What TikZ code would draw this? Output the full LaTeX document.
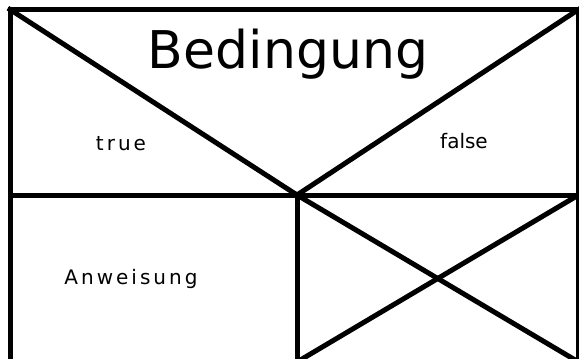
\documentclass[tikz,border=0pt]{standalone}
\usepackage{fontspec}
\setmainfont{DejaVu Sans}
\newfontfamily\condfont{DejaVu Sans}
\newfontfamily\spacedfont[LetterSpace=15]{DejaVu Sans}
\usetikzlibrary{positioning,calc}

\begin{document}
\begin{tikzpicture}[
  x=1pt, y=-1pt,
  every node/.style={inner sep=0pt, anchor=base},
  bar/.style={line width=5pt, line cap=rect},
  head/.style={font=\fontsize{52}{60}\selectfont\condfont},
  case/.style={font=\fontsize{20}{24}\selectfont\condfont},
  casesp/.style={font=\fontsize{20}{24}\selectfont\spacedfont}
]
\useasboundingbox (0,0) rectangle (579,359);
\clip (0,0) rectangle (579,359);
% corners of the block
\coordinate (tl) at (10,9.5);
\coordinate (tr) at (578.5,9.5);
\coordinate (ml) at (10,195);
\coordinate (mr) at (578.5,195);
\coordinate (mid) at (297,195);
\coordinate (bl) at (10,362);
\coordinate (bm) at (297,362);
\coordinate (br) at (578.5,362);
% frame and dividers
\draw[bar] (bl) -- (tl) -- (tr) -- (br);
\draw[bar] (ml) -- (mr);
\draw[bar] (mid) -- (bm);
% condition triangle
\draw[bar] (tl) -- (mid) -- (tr);
% empty else branch
\draw[bar] (mid) -- (br);
\draw[bar] (bm) -- (mr);
% texts
\node[head] (cond) at (288,68) {Bedingung};
\node[casesp] (yes) at (121,150) {true};
\node[case] (no) at (464,148) {false};
\node[casesp] (stmt) at (131,284) {Anweisung};
\end{tikzpicture}
\end{document}
